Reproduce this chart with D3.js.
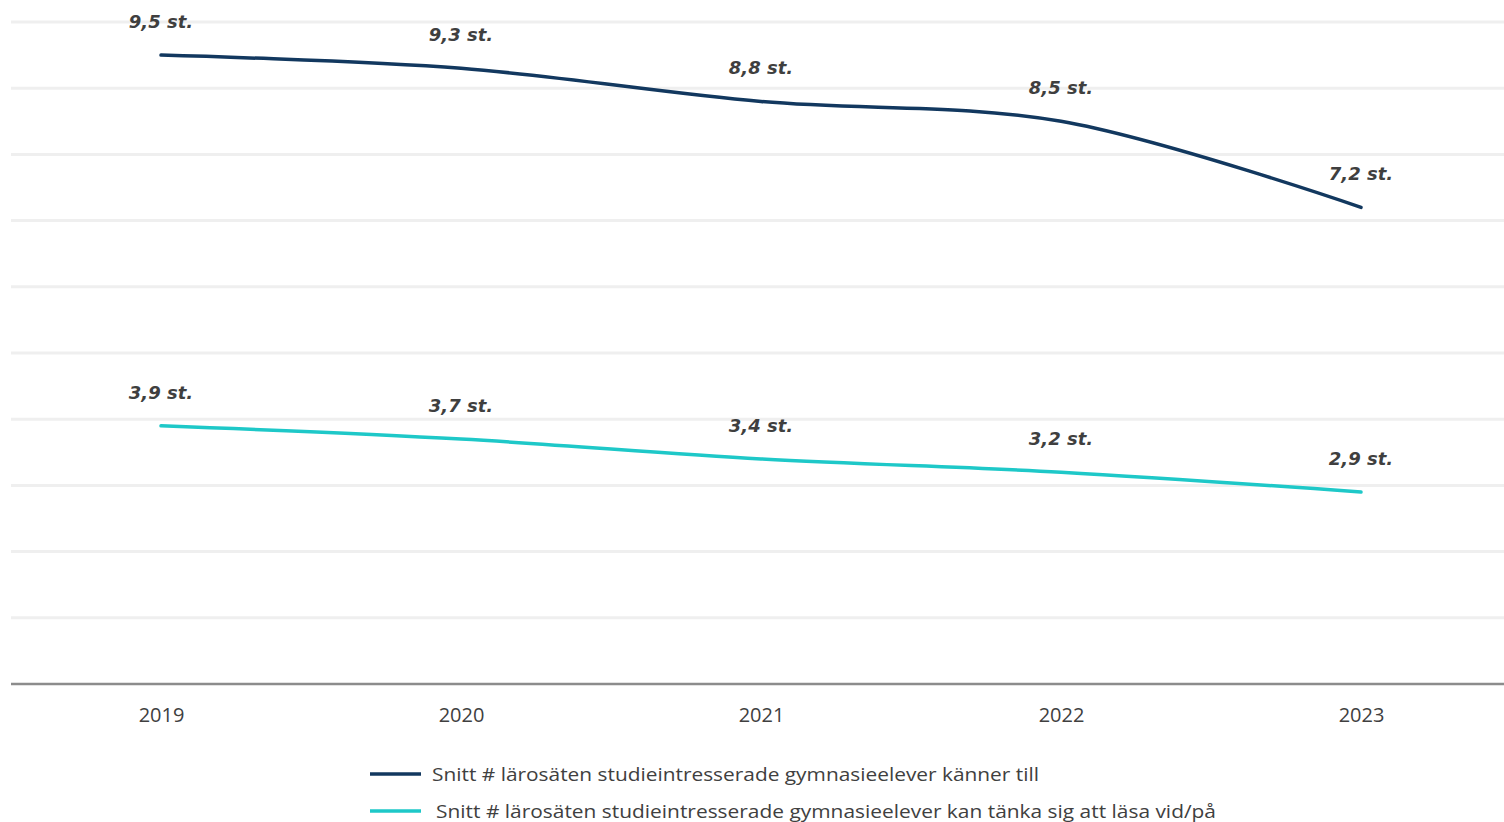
<!DOCTYPE html>
<html><head><meta charset="utf-8">
<script src="https://cdn.jsdelivr.net/npm/d3@7"></script>
<style>html,body{margin:0;padding:0;background:#fff;} svg{display:block;}</style>
</head><body>
<script>
const years = ["2019","2020","2021","2022","2023"];
const seriesNames = [
  "Snitt # lärosäten studieintresserade gymnasieelever känner till",
  "Snitt # lärosäten studieintresserade gymnasieelever kan tänka sig att läsa vid/på"
];
const knowValues = [9.5, 9.3, 8.8, 8.5, 7.2];
const considerValues = [3.9, 3.7, 3.4, 3.2, 2.9];
const knowLabels = ["9,5 st.","9,3 st.","8,8 st.","8,5 st.","7,2 st."];
const considerLabels = ["3,9 st.","3,7 st.","3,4 st.","3,2 st.","2,9 st."];
const gridTicks = [1,2,3,4,5,6,7,8,9,10];
const colors = ["#12385f", "#1ec8c8"];

const W = 1504, H = 822;
const svg = d3.select("body").append("svg").attr("width", W).attr("height", H);

const x = d3.scalePoint().domain(years).range([161, 1361]);
const y = d3.scaleLinear().domain([0, 10]).range([684, 22]);

// gridlines
svg.append("g").selectAll("line").data(gridTicks).join("line")
  .attr("x1", 11).attr("x2", W).attr("y1", d => y(d)).attr("y2", d => y(d))
  .attr("stroke", "#efefef").attr("stroke-width", 3);

// x axis
const xAxis = svg.append("g").attr("transform", `translate(0,${y(0)})`)
  .call(d3.axisBottom(x).tickSize(0).tickPadding(24));
xAxis.select(".domain").remove();
xAxis.append("line").attr("x1", 11).attr("x2", W).attr("stroke", "#8c8c8c").attr("stroke-width", 2.5);
xAxis.selectAll("text").attr("font-family", "'Open Sans', sans-serif").attr("font-size", 20).attr("fill", "#404040");

const line = d3.line().x((d, i) => x(years[i])).y(d => y(d)).curve(d3.curveCatmullRom.alpha(0.5));

const data = [
  {vals: knowValues, labels: knowLabels, color: colors[0]},
  {vals: considerValues, labels: considerLabels, color: colors[1]}
];

data.forEach(s => {
  svg.append("path").datum(s.vals).attr("d", line)
    .attr("fill", "none").attr("stroke", s.color).attr("stroke-width", 3.5).attr("stroke-linecap", "round");
  svg.append("g").selectAll("text").data(s.vals).join("text")
    .attr("x", (d, i) => x(years[i]))
    .attr("y", d => y(d) - 27)
    .attr("text-anchor", "middle")
    .attr("font-family", "'DejaVu Sans', sans-serif")
    .attr("font-style", "italic").attr("font-weight", "bold")
    .attr("font-size", 18).attr("fill", "#3f3f3f")
    .text((d, i) => s.labels[i]);
});

// legend
const leg = svg.append("g");
const legY = [774, 811];
const legX = [432, 436];
seriesNames.forEach((n, i) => {
  leg.append("line").attr("x1", 370).attr("x2", 421).attr("y1", legY[i]).attr("y2", legY[i])
    .attr("stroke", colors[i]).attr("stroke-width", 3.5);
  leg.append("text").attr("x", legX[i]).attr("y", legY[i] + 7)
    .attr("font-family", "'Open Sans', sans-serif").attr("font-size", 19).attr("fill", "#404040")
    .attr("textLength", i === 0 ? 607 : 780).attr("lengthAdjust", "spacingAndGlyphs")
    .text(n);
});
</script>
</body></html>
